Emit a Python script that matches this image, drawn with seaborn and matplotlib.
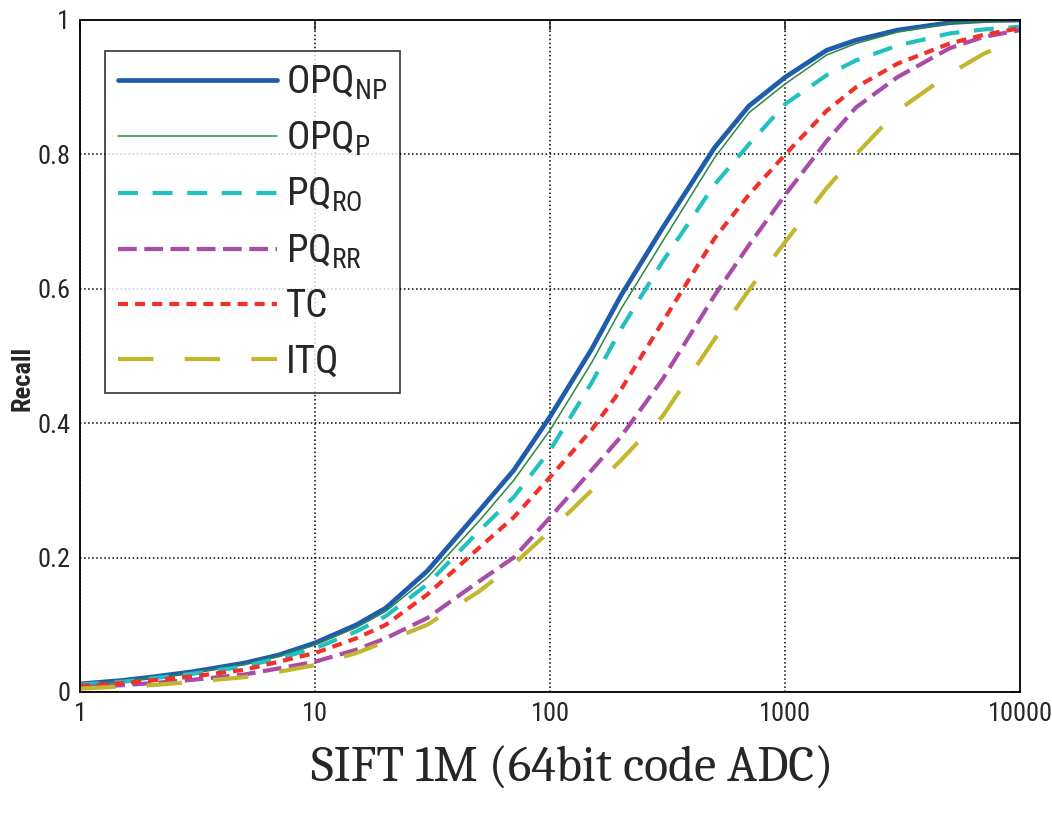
import matplotlib
matplotlib.use("Agg")
import matplotlib.pyplot as plt
import seaborn as sns
import pandas as pd

# Datos (recall vs N, escala log)
x_vals = [1, 1.5, 2, 3, 5, 7, 10, 15, 20, 30, 50, 70, 100, 150, 200, 300, 500, 700,
          1000, 1500, 2000, 3000, 5000, 7000, 10000]
opq_np = [0.012, 0.017, 0.022, 0.03, 0.043, 0.055, 0.073, 0.1, 0.125, 0.18, 0.27, 0.33, 0.41, 0.51,
          0.59, 0.69, 0.81, 0.872, 0.915, 0.955, 0.97, 0.985, 0.996, 0.999, 1.0]
opq_p = [0.011, 0.016, 0.021, 0.028, 0.041, 0.053, 0.07, 0.096, 0.12, 0.17, 0.255, 0.315, 0.39, 0.49,
         0.57, 0.67, 0.795, 0.862, 0.905, 0.948, 0.965, 0.982, 0.995, 0.998, 1.0]
pq_ro = [0.011, 0.015, 0.02, 0.027, 0.038, 0.05, 0.065, 0.09, 0.113, 0.16, 0.24, 0.29, 0.36, 0.46,
         0.54, 0.64, 0.755, 0.815, 0.875, 0.918, 0.94, 0.962, 0.98, 0.986, 0.99]
pq_rr = [0.007, 0.01, 0.013, 0.018, 0.026, 0.035, 0.045, 0.063, 0.08, 0.11, 0.165, 0.2, 0.26, 0.33,
         0.38, 0.465, 0.59, 0.665, 0.74, 0.82, 0.87, 0.915, 0.958, 0.975, 0.985]
tc = [0.009, 0.013, 0.017, 0.023, 0.033, 0.045, 0.058, 0.08, 0.1, 0.145, 0.215, 0.26, 0.32, 0.39,
      0.45, 0.55, 0.675, 0.74, 0.8, 0.865, 0.9, 0.935, 0.965, 0.978, 0.988]
itq = [0.005, 0.008, 0.01, 0.015, 0.022, 0.03, 0.04, 0.058, 0.075, 0.1, 0.15, 0.19, 0.24, 0.3,
       0.345, 0.41, 0.525, 0.598, 0.67, 0.75, 0.8, 0.865, 0.92, 0.95, 0.973]

etiquetas = [r'$\mathrm{OPQ}_{\mathrm{NP}}$', r'$\mathrm{OPQ}_{\mathrm{P}}$', r'$\mathrm{PQ}_{\mathrm{RO}}$',
             r'$\mathrm{PQ}_{\mathrm{RR}}$', 'TC', 'ITQ']
x_ticks = [1, 10, 100, 1000, 10000]
x_ticklabels = ['1', '10', '100', '1000', '10000']
y_ticks = [0, 0.2, 0.4, 0.6, 0.8, 1]
y_ticklabels = ['0', '0.2', '0.4', '0.6', '0.8', '1']

sns.set_style("white")
fuente = ['Roboto Condensed', 'PT Sans Narrow', 'Archivo Narrow', 'DejaVu Sans']
plt.rcParams['font.family'] = fuente
plt.rcParams['mathtext.fontset'] = 'custom'
plt.rcParams['mathtext.rm'] = 'Roboto Condensed'

fig = plt.figure(figsize=(10.52, 8.16), dpi=100)
ax = fig.add_axes([0.076, 0.152, 0.894, 0.8235])

series = [opq_np, opq_p, pq_ro, pq_rr, tc, itq]
# estilo de cada curva
estilos = [
    dict(color='#1f5cab', lw=3.4, ls='-'),
    dict(color='#2e8745', lw=1.1, ls='-'),
    dict(color='#22c0c0', lw=3.0, ls=(0, (4.8, 3.5))),
    dict(color='#a84ca8', lw=3.0, ls=(0, (4.5, 1.8))),
    dict(color='#f0302a', lw=3.0, ls=(0, (2.4, 1.7))),
    dict(color='#c2b62e', lw=3.0, ls=(0, (8.5, 7.5))),
]

for valores, nombre, est in zip(series, etiquetas, estilos):
    df = pd.DataFrame({'N': x_vals, 'Recall': valores})
    sns.lineplot(data=df, x='N', y='Recall', ax=ax, label=nombre,
                 color=est['color'], linewidth=est['lw'], linestyle=est['ls'])

ax.set_xscale('log')
ax.set_xlim(1, 10000)
ax.set_ylim(0, 1)
ax.set_xticks(x_ticks)
ax.set_xticklabels(x_ticklabels)
ax.set_yticks(y_ticks)
ax.set_yticklabels(y_ticklabels)
ax.minorticks_off()
ax.tick_params(direction='in', length=7, width=1.2, labelsize=19, top=True, right=True, pad=7)
ax.grid(True, linestyle=':', color='black', linewidth=1.1)
for s in ax.spines.values():
    s.set_color('black')
    s.set_linewidth(1.3)

ax.set_xlabel('')
ax.set_ylabel('Recall', fontsize=19, fontweight='bold')
ax.yaxis.set_label_coords(-0.048, 0.467)

leg = ax.legend(loc='upper left', bbox_to_anchor=(0.0266, 0.954), borderaxespad=0, fontsize=28,
                handlelength=4.1, handletextpad=0.22, labelspacing=0.46, borderpad=0.33,
                frameon=True, fancybox=False)
leg.get_frame().set_edgecolor('black')
leg.get_frame().set_linewidth(1.2)

fig.text(0.544, 0.057, 'SIFT 1M (64bit code ADC)', ha='center', va='center', fontsize=36,
         family=['Caladea', 'Liberation Serif', 'DejaVu Serif'])

fig.savefig('out.png', dpi=100)
